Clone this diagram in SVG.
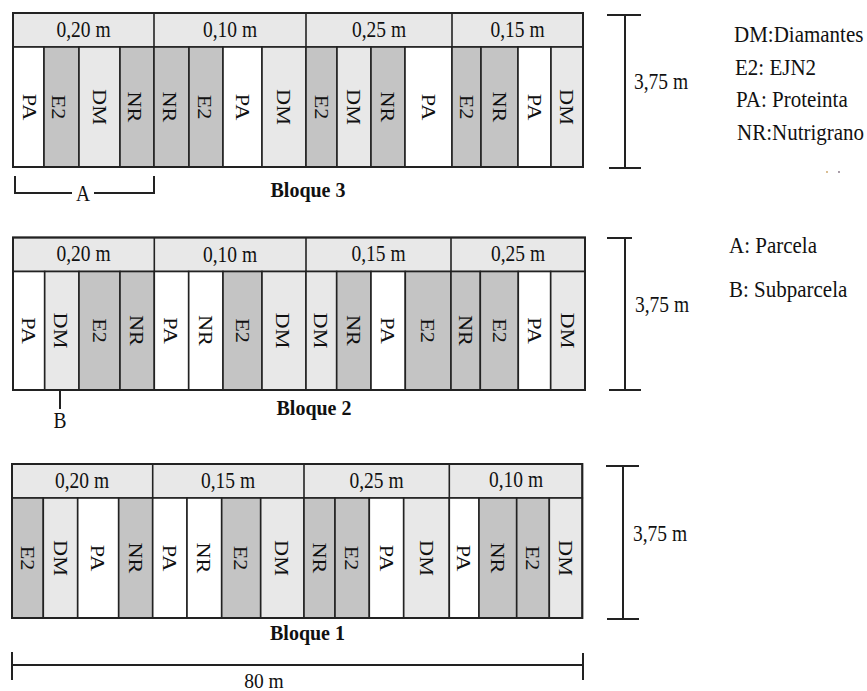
<svg xmlns="http://www.w3.org/2000/svg" width="867" height="691" viewBox="0 0 867 691">
<style>
text{font-family:"Liberation Serif","Times New Roman",serif;fill:#111}
.w{fill:#ffffff}.g{fill:#c4c4c4}.l{fill:#e8e8e8}
.c{stroke:#222;stroke-width:1.6}
.h{fill:#e8e8e8;stroke:#222;stroke-width:1.6}
.t{font-size:19.5px;text-anchor:middle}
.r{font-size:19.5px;text-anchor:middle;dominant-baseline:central}
.b{font-size:20px;font-weight:bold;text-anchor:middle}
.lg{font-size:21px}
.d{stroke:#222;stroke-width:2;fill:none}
</style>
<rect width="867" height="691" fill="#fff"/>

<g id="bloque3">
<rect class="h" x="13" y="13" width="570" height="34"/>
<line class="c" x1="154" y1="13" x2="154" y2="47"/><line class="c" x1="306" y1="13" x2="306" y2="47"/><line class="c" x1="452" y1="13" x2="452" y2="47"/>
<text class="t" transform="translate(83.5,37) scale(1,1.14)">0,20 m</text>
<text class="t" transform="translate(230,37) scale(1,1.14)">0,10 m</text>
<text class="t" transform="translate(379,37) scale(1,1.14)">0,25 m</text>
<text class="t" transform="translate(517.5,37) scale(1,1.14)">0,15 m</text>
<rect class="c w" x="13" y="47" width="31" height="120"/>
<rect class="c g" x="44" y="47" width="35" height="120"/>
<rect class="c l" x="79" y="47" width="41" height="120"/>
<rect class="c g" x="120" y="47" width="34" height="120"/>
<rect class="c g" x="154" y="47" width="35" height="120"/>
<rect class="c g" x="189" y="47" width="34" height="120"/>
<rect class="c w" x="223" y="47" width="39" height="120"/>
<rect class="c l" x="262" y="47" width="44" height="120"/>
<rect class="c g" x="306" y="47" width="31" height="120"/>
<rect class="c l" x="337" y="47" width="34" height="120"/>
<rect class="c g" x="371" y="47" width="34" height="120"/>
<rect class="c w" x="405" y="47" width="47" height="120"/>
<rect class="c g" x="452" y="47" width="29" height="120"/>
<rect class="c g" x="481" y="47" width="37" height="120"/>
<rect class="c w" x="518" y="47" width="33" height="120"/>
<rect class="c l" x="551" y="47" width="32" height="120"/>
<rect x="13" y="13" width="570" height="154" fill="none" stroke="#222" stroke-width="2"/>
<text class="r" transform="translate(30,107) rotate(90) scale(1.14,1)">PA</text>
<text class="r" transform="translate(59,107) rotate(90) scale(1.14,1)">E2</text>
<text class="r" transform="translate(99.5,107) rotate(90) scale(1.14,1)">DM</text>
<text class="r" transform="translate(135,107) rotate(90) scale(1.14,1)">NR</text>
<text class="r" transform="translate(170,107) rotate(90) scale(1.14,1)">NR</text>
<text class="r" transform="translate(205,107) rotate(90) scale(1.14,1)">E2</text>
<text class="r" transform="translate(242.5,107) rotate(90) scale(1.14,1)">PA</text>
<text class="r" transform="translate(284,107) rotate(90) scale(1.14,1)">DM</text>
<text class="r" transform="translate(321.5,107) rotate(90) scale(1.14,1)">E2</text>
<text class="r" transform="translate(354,107) rotate(90) scale(1.14,1)">DM</text>
<text class="r" transform="translate(388,107) rotate(90) scale(1.14,1)">NR</text>
<text class="r" transform="translate(428.5,107) rotate(90) scale(1.14,1)">PA</text>
<text class="r" transform="translate(466.5,107) rotate(90) scale(1.14,1)">E2</text>
<text class="r" transform="translate(499.5,107) rotate(90) scale(1.14,1)">NR</text>
<text class="r" transform="translate(534.5,107) rotate(90) scale(1.14,1)">PA</text>
<text class="r" transform="translate(567,107) rotate(90) scale(1.14,1)">DM</text>
<text class="b" transform="translate(308,197) scale(1,1.1)">Bloque 3</text>
</g>

<g id="bloque2">
<rect class="h" x="13" y="237.5" width="572" height="34"/>
<line class="c" x1="154.3" y1="237.5" x2="154.3" y2="271.5"/><line class="c" x1="306" y1="237.5" x2="306" y2="271.5"/><line class="c" x1="451" y1="237.5" x2="451" y2="271.5"/>
<text class="t" transform="translate(83.5,261) scale(1,1.14)">0,20 m</text>
<text class="t" transform="translate(230,262) scale(1,1.14)">0,10 m</text>
<text class="t" transform="translate(378.5,261) scale(1,1.14)">0,15 m</text>
<text class="t" transform="translate(518,261) scale(1,1.14)">0,25 m</text>
<rect class="c w" x="13" y="271.5" width="31.7" height="118.5"/>
<rect class="c l" x="44.7" y="271.5" width="34.3" height="118.5"/>
<rect class="c g" x="79" y="271.5" width="41" height="118.5"/>
<rect class="c g" x="120" y="271.5" width="34.3" height="118.5"/>
<rect class="c w" x="154.3" y="271.5" width="34.4" height="118.5"/>
<rect class="c w" x="188.7" y="271.5" width="34.3" height="118.5"/>
<rect class="c g" x="223" y="271.5" width="39" height="118.5"/>
<rect class="c l" x="262" y="271.5" width="44" height="118.5"/>
<rect class="c l" x="306" y="271.5" width="30.7" height="118.5"/>
<rect class="c g" x="336.7" y="271.5" width="34.3" height="118.5"/>
<rect class="c w" x="371" y="271.5" width="34.3" height="118.5"/>
<rect class="c g" x="405.3" y="271.5" width="45.7" height="118.5"/>
<rect class="c g" x="451" y="271.5" width="29.3" height="118.5"/>
<rect class="c g" x="480.3" y="271.5" width="38" height="118.5"/>
<rect class="c w" x="518.3" y="271.5" width="32.4" height="118.5"/>
<rect class="c l" x="550.7" y="271.5" width="34.3" height="118.5"/>
<rect x="13" y="237.5" width="572" height="152.5" fill="none" stroke="#222" stroke-width="2"/>
<text class="r" transform="translate(29,330.5) rotate(90) scale(1.14,1)">PA</text>
<text class="r" transform="translate(61,330.5) rotate(90) scale(1.14,1)">DM</text>
<text class="r" transform="translate(99.5,330.5) rotate(90) scale(1.14,1)">E2</text>
<text class="r" transform="translate(137,330.5) rotate(90) scale(1.14,1)">NR</text>
<text class="r" transform="translate(171,330.5) rotate(90) scale(1.14,1)">PA</text>
<text class="r" transform="translate(206,330.5) rotate(90) scale(1.14,1)">NR</text>
<text class="r" transform="translate(242.5,330.5) rotate(90) scale(1.14,1)">E2</text>
<text class="r" transform="translate(283,330.5) rotate(90) scale(1.14,1)">DM</text>
<text class="r" transform="translate(320.5,330.5) rotate(90) scale(1.14,1)">DM</text>
<text class="r" transform="translate(354,330.5) rotate(90) scale(1.14,1)">NR</text>
<text class="r" transform="translate(388,330.5) rotate(90) scale(1.14,1)">PA</text>
<text class="r" transform="translate(428,330.5) rotate(90) scale(1.14,1)">E2</text>
<text class="r" transform="translate(465.5,330.5) rotate(90) scale(1.14,1)">NR</text>
<text class="r" transform="translate(499.5,330.5) rotate(90) scale(1.14,1)">E2</text>
<text class="r" transform="translate(534.5,330.5) rotate(90) scale(1.14,1)">PA</text>
<text class="r" transform="translate(568,330.5) rotate(90) scale(1.14,1)">DM</text>
<text class="b" transform="translate(314,415) scale(1,1.1)">Bloque 2</text>
</g>

<g id="bloque1">
<rect class="h" x="12" y="464" width="570.3" height="34"/>
<line class="c" x1="152.7" y1="464" x2="152.7" y2="498"/><line class="c" x1="304" y1="464" x2="304" y2="498"/><line class="c" x1="449.3" y1="464" x2="449.3" y2="498"/>
<text class="t" transform="translate(82,488) scale(1,1.14)">0,20 m</text>
<text class="t" transform="translate(228,488) scale(1,1.14)">0,15 m</text>
<text class="t" transform="translate(376.5,488) scale(1,1.14)">0,25 m</text>
<text class="t" transform="translate(516,487) scale(1,1.14)">0,10 m</text>
<rect class="c g" x="12" y="498" width="31.3" height="120"/>
<rect class="c l" x="43.3" y="498" width="34.4" height="120"/>
<rect class="c w" x="77.7" y="498" width="41" height="120"/>
<rect class="c g" x="118.7" y="498" width="34" height="120"/>
<rect class="c w" x="152.7" y="498" width="34.3" height="120"/>
<rect class="c w" x="187" y="498" width="34.7" height="120"/>
<rect class="c g" x="221.7" y="498" width="39" height="120"/>
<rect class="c l" x="260.7" y="498" width="43.3" height="120"/>
<rect class="c g" x="304" y="498" width="31" height="120"/>
<rect class="c g" x="335" y="498" width="34.3" height="120"/>
<rect class="c w" x="369.3" y="498" width="34.4" height="120"/>
<rect class="c l" x="403.7" y="498" width="45.6" height="120"/>
<rect class="c w" x="449.3" y="498" width="29.7" height="120"/>
<rect class="c g" x="479" y="498" width="37.7" height="120"/>
<rect class="c g" x="516.7" y="498" width="32.6" height="120"/>
<rect class="c l" x="549.3" y="498" width="33" height="120"/>
<rect x="12" y="464" width="570.3" height="154" fill="none" stroke="#222" stroke-width="2"/>
<text class="r" transform="translate(27.5,558) rotate(90) scale(1.14,1)">E2</text>
<text class="r" transform="translate(60.5,558) rotate(90) scale(1.14,1)">DM</text>
<text class="r" transform="translate(98,558) rotate(90) scale(1.14,1)">PA</text>
<text class="r" transform="translate(135.5,558) rotate(90) scale(1.14,1)">NR</text>
<text class="r" transform="translate(169.5,558) rotate(90) scale(1.14,1)">PA</text>
<text class="r" transform="translate(204,558) rotate(90) scale(1.14,1)">NR</text>
<text class="r" transform="translate(241,558) rotate(90) scale(1.14,1)">E2</text>
<text class="r" transform="translate(282,558) rotate(90) scale(1.14,1)">DM</text>
<text class="r" transform="translate(319.5,558) rotate(90) scale(1.14,1)">NR</text>
<text class="r" transform="translate(352,558) rotate(90) scale(1.14,1)">E2</text>
<text class="r" transform="translate(386.5,558) rotate(90) scale(1.14,1)">PA</text>
<text class="r" transform="translate(426.5,558) rotate(90) scale(1.14,1)">DM</text>
<text class="r" transform="translate(464,558) rotate(90) scale(1.14,1)">PA</text>
<text class="r" transform="translate(498,558) rotate(90) scale(1.14,1)">NR</text>
<text class="r" transform="translate(533,558) rotate(90) scale(1.14,1)">E2</text>
<text class="r" transform="translate(566,558) rotate(90) scale(1.14,1)">DM</text>
<text class="b" transform="translate(307.5,640) scale(1,1.1)">Bloque 1</text>
</g>

<g id="connectors">
<path class="d" d="M15,176 V193 H72 M94,193 H154 V176"/>
<text class="t" transform="translate(83,201) scale(1,1.14)">A</text>
<line class="d" x1="60" y1="390" x2="60" y2="409"/>
<text class="t" transform="translate(60,428) scale(1,1.14)">B</text>
<path class="d" d="M607,15 H641 M625,15 V168 M609,168 H641"/>
<text class="t" transform="translate(661,89) scale(1,1.14)">3,75 m</text>
<path class="d" d="M607,238 H632 M625,238 V390 M609,390 H641"/>
<text class="t" transform="translate(662,312) scale(1,1.14)">3,75 m</text>
<path class="d" d="M606,466 H639 M623,466 V619 M607,619 H639"/>
<text class="t" transform="translate(660,541) scale(1,1.14)">3,75 m</text>
<path class="d" d="M12,652 V680 M12,665 H583 M583,653 V680"/>
<text class="t" transform="translate(264,688) scale(1,1.1)">80 m</text>
</g>

<g id="legend">
<text class="lg" transform="translate(734,42) scale(1,1.12)">DM:Diamantes</text>
<text class="lg" transform="translate(735,75) scale(1,1.12)">E2: EJN2</text>
<text class="lg" transform="translate(736,107) scale(1,1.12)">PA: Proteinta</text>
<text class="lg" transform="translate(737,140) scale(1,1.12)">NR:Nutrigrano</text>
<circle cx="827" cy="172" r="0.9" fill="#c9a060"/>
<circle cx="839" cy="172" r="0.9" fill="#807080"/>
<text class="lg" transform="translate(729,253) scale(1,1.12)">A: Parcela</text>
<text class="lg" transform="translate(729,297) scale(1,1.12)">B: Subparcela</text>
</g>
</svg>
